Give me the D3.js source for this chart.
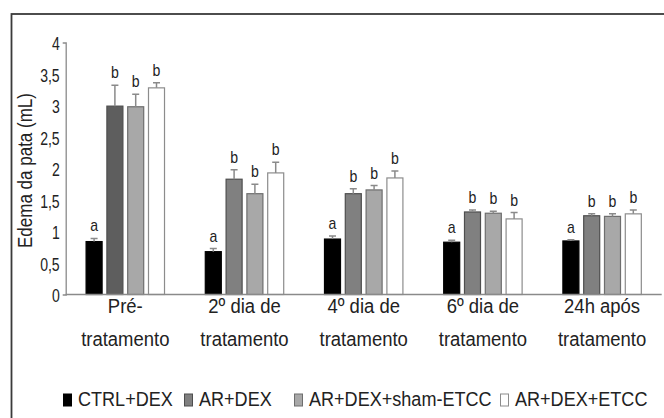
<!DOCTYPE html>
<html>
<head>
<meta charset="utf-8">
<script src="https://cdn.jsdelivr.net/npm/d3@7"></script>
<style>
  body { margin: 0; background: #fff; }
  text { font-family: "Liberation Sans", Arial, sans-serif; fill: #222; }
</style>
</head>
<body>
<svg width="664" height="418"></svg>
<script>
const categories = ['Pré-|tratamento', '2º dia de|tratamento', '4º dia de|tratamento', '6º dia de|tratamento', '24h após|tratamento'];
const series = ['CTRL+DEX', 'AR+DEX', 'AR+DEX+sham-ETCC', 'AR+DEX+ETCC'];
const means = [
  [0.84, 2.99, 2.98, 3.28],
  [0.68, 1.83, 1.60, 1.93],
  [0.88, 1.60, 1.66, 1.85],
  [0.83, 1.31, 1.29, 1.20],
  [0.85, 1.25, 1.24, 1.28]
];
const errors = [
  [0.05, 0.33, 0.20, 0.08],
  [0.05, 0.15, 0.15, 0.17],
  [0.05, 0.08, 0.07, 0.11],
  [0.03, 0.03, 0.03, 0.10],
  [0.02, 0.03, 0.04, 0.06]
];
const letters = [
  ['a', 'b', 'b', 'b'],
  ['a', 'b', 'b', 'b'],
  ['a', 'b', 'b', 'b'],
  ['a', 'b', 'b', 'b'],
  ['a', 'b', 'b', 'b']
];
const yTicks = [0, 0.5, 1, 1.5, 2, 2.5, 3, 3.5, 4];

const fills = ['#000000', '#808080', '#a8a8a8', '#ffffff'];
const strokes = ['#000000', '#4e4e4e', '#6e6e6e', '#8c8c8c'];

const svg = d3.select('svg');

// narrow text: the original uses a condensed face
const squeeze = (sel, x, y, c) => sel.attr('transform', `translate(${x},${y}) scale(${c},1)`);

// outer frame, cut off at right and bottom
svg.append('rect')
  .attr('x', 11.5).attr('y', 14)
  .attr('width', 700).attr('height', 500)
  .attr('fill', 'none')
  .attr('stroke', '#3a3a3a')
  .attr('stroke-width', 1.8);

const xScale = d3.scaleBand()
  .domain(categories)
  .range([65.7, 661.7]);

const xSub = d3.scaleBand()
  .domain(series)
  .range([0, xScale.bandwidth()])
  .paddingInner(0.23)
  .paddingOuter(0.98);

const yScale = d3.scaleLinear()
  .domain([0, 4])
  .range([294.5, 42.5]);

// y axis
const yAxis = d3.axisLeft(yScale)
  .tickValues(yTicks)
  .tickFormat(d => String(d).replace('.', ','))
  .tickSizeInner(0)
  .tickSizeOuter(3)
  .tickPadding(0);

const yAxisG = svg.append('g')
  .attr('transform', 'translate(65.7,0)')
  .call(yAxis);
yAxisG.select('.domain').attr('stroke', '#8a8a8a').attr('stroke-width', 1.3);
yAxisG.selectAll('.tick text')
  .attr('x', null).attr('dy', null)
  .attr('font-size', 19)
  .attr('fill', '#222')
  .style('font-family', '"Liberation Sans", Arial, sans-serif')
  .attr('transform', 'translate(-6,7) scale(0.74,1)');

svg.append('text')
  .attr('text-anchor', 'middle')
  .attr('font-size', 21)
  .text('Edema da pata (mL)')
  .attr('transform', `translate(32,${yScale(2) + 2}) rotate(-90) scale(0.81,1)`);

// bars
const groups = svg.selectAll('.group').data(categories)
  .enter().append('g')
    .attr('class', 'group')
    .attr('transform', d => `translate(${xScale(d)},0)`);

groups.each(function(cat, gi) {
  const g = d3.select(this);
  const rows = series.map((s, si) => ({ s, si, v: means[gi][si], e: errors[gi][si], l: letters[gi][si] }));

  g.selectAll('rect').data(rows)
    .enter().append('rect')
      .attr('x', d => xSub(d.s))
      .attr('y', d => yScale(d.v))
      .attr('width', xSub.bandwidth())
      .attr('height', d => yScale(0) - yScale(d.v))
      .attr('fill', d => (gi === 0 && d.si === 1) ? '#5e5e5e' : fills[d.si])
      .attr('stroke', d => strokes[d.si])
      .attr('stroke-width', 1.2);

  const cx = d => xSub(d.s) + xSub.bandwidth() / 2;

  g.selectAll('.err').data(rows)
    .enter().append('path')
      .attr('class', 'err')
      .attr('d', d => `M${cx(d)},${yScale(d.v)}V${yScale(d.v + d.e)}M${cx(d) - 3.5},${yScale(d.v + d.e)}H${cx(d) + 3.5}`)
      .attr('stroke', '#8a8a8a')
      .attr('stroke-width', 1.5)
      .attr('fill', 'none');

  g.selectAll('.letter').data(rows)
    .enter().append('text')
      .attr('class', 'letter')
      .attr('text-anchor', 'middle')
      .attr('font-size', 16)
      .text(d => d.l)
      .each(function(d) { squeeze(d3.select(this), cx(d), yScale(d.v + d.e) - 7, 0.88); });
});

// x axis line
svg.append('line')
  .attr('x1', 65.7).attr('x2', 661.7)
  .attr('y1', yScale(0)).attr('y2', yScale(0))
  .attr('stroke', '#8a8a8a')
  .attr('stroke-width', 1.5);

// category labels
const catLabels = svg.selectAll('.cat').data(categories)
  .enter().append('text')
    .attr('class', 'cat')
    .attr('text-anchor', 'middle')
    .attr('font-size', 21)
    .each(function(d) { squeeze(d3.select(this), xScale(d) + xScale.bandwidth() / 2, 313, 0.88); });
catLabels.selectAll('tspan').data(d => d.split('|'))
  .enter().append('tspan')
    .attr('x', 0)
    .attr('y', (d, i) => i * 33)
    .text(d => d);

// legend
const legendX = [63, 184, 294, 500];
const legend = svg.selectAll('.legend').data(series)
  .enter().append('g')
    .attr('class', 'legend')
    .attr('transform', (d, i) => `translate(${legendX[i]},406)`);
legend.append('rect')
  .attr('x', 0.5).attr('y', -12)
  .attr('width', 8).attr('height', 12)
  .attr('fill', (d, i) => fills[i])
  .attr('stroke', (d, i) => strokes[i]);
legend.append('text')
  .attr('font-size', 21)
  .text(d => d)
  .each(function() { squeeze(d3.select(this), 15, 0, 0.86); });
</script>
</body>
</html>
